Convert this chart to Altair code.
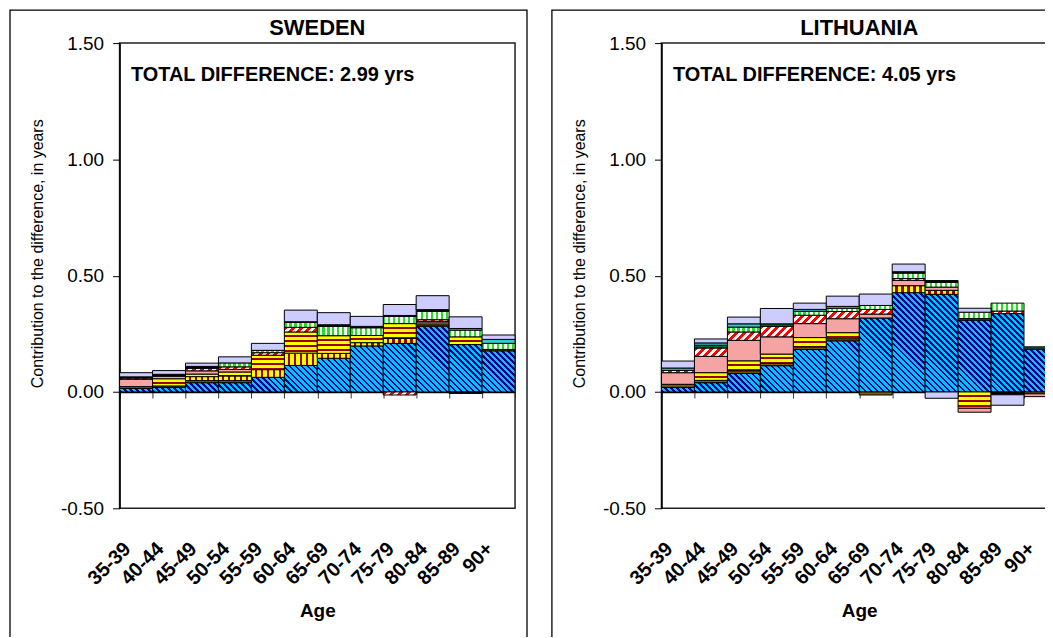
import math
import altair as alt

FONT = "Liberation Sans"

ages = ["35-39", "40-44", "45-49", "50-54", "55-59", "60-64",
        "65-69", "70-74", "75-79", "80-84", "85-89", "90+"]
countries = ["SWEDEN", "LITHUANIA"]
total_diff = [2.99, 4.05]

causes = ["circ", "brown", "diamond", "stripes", "reddots", "reddiag",
          "darkgreen", "greenvert", "teal", "black", "lavender"]

# ---- Sweden (contribution, years) ----
se_circ      = [0.015, 0.020, 0.040, 0.040, 0.063, 0.114, 0.145, 0.198, 0.209, 0.283, 0.204, 0.177]
se_brown     = [0.008, 0.006, 0.009, 0.009, 0.000, 0.000, 0.000, 0.000, 0.000, 0.006, 0.000, 0.006]
se_diamond   = [0.000, 0.000, 0.017, 0.020, 0.033, 0.053, 0.021, 0.014, 0.021, 0.000, 0.000, 0.000]
se_stripes   = [0.000, 0.031, 0.011, 0.017, 0.062, 0.091, 0.076, 0.031, 0.064, 0.008, 0.033, 0.000]
se_reddots   = [0.032, 0.011, 0.014, 0.011, 0.000, 0.000, 0.000, 0.000, 0.000, 0.007, 0.000, 0.000]
se_reddiag   = [0.005, 0.000, 0.011, 0.011, 0.011, 0.020, 0.000, 0.000, -0.013, 0.007, 0.000, 0.000]
se_darkgreen = [0.000, 0.000, 0.000, 0.000, 0.000, 0.000, 0.000, 0.000, 0.000, 0.000, 0.000, 0.000]
se_greenvert = [0.000, 0.000, 0.000, 0.017, 0.010, 0.021, 0.040, 0.033, 0.031, 0.036, 0.029, 0.026]
se_teal      = [0.000, 0.000, 0.000, 0.000, 0.000, 0.000, 0.000, 0.000, 0.000, 0.000, 0.007, 0.017]
se_black     = [0.005, 0.008, 0.008, 0.000, 0.000, 0.003, 0.007, 0.006, 0.004, 0.007, -0.006, 0.000]
se_lavender  = [0.018, 0.016, 0.014, 0.026, 0.030, 0.050, 0.052, 0.043, 0.047, 0.060, 0.050, 0.019]

# ---- Lithuania (contribution, years) ----
lt_circ      = [0.020, 0.040, 0.080, 0.113, 0.183, 0.220, 0.318, 0.427, 0.420, 0.309, 0.337, 0.184]
lt_brown     = [0.013, 0.010, 0.011, 0.010, 0.011, 0.009, -0.013, 0.000, 0.000, 0.000, 0.000, -0.008]
lt_diamond   = [0.000, 0.000, 0.000, 0.000, 0.000, 0.000, 0.000, 0.030, 0.017, 0.000, 0.000, 0.000]
lt_stripes   = [0.000, 0.033, 0.043, 0.040, 0.040, 0.026, 0.000, 0.000, 0.000, -0.070, 0.000, 0.000]
lt_reddots   = [0.050, 0.070, 0.088, 0.074, 0.060, 0.060, 0.017, 0.023, 0.014, -0.017, 0.000, -0.012]
lt_reddiag   = [0.010, 0.036, 0.036, 0.045, 0.036, 0.031, 0.020, 0.008, 0.000, 0.000, 0.011, 0.000]
lt_darkgreen = [0.000, 0.012, 0.000, 0.011, 0.000, 0.000, 0.000, 0.000, 0.000, 0.007, 0.000, 0.010]
lt_greenvert = [0.000, 0.000, 0.021, 0.000, 0.017, 0.014, 0.017, 0.023, 0.020, 0.027, 0.034, 0.000]
lt_teal      = [0.010, 0.010, 0.014, 0.000, 0.008, 0.008, 0.000, 0.000, 0.000, 0.000, 0.000, 0.000]
lt_black     = [0.000, 0.000, 0.000, 0.000, 0.000, 0.000, 0.000, 0.006, 0.008, 0.000, -0.012, 0.000]
lt_lavender  = [0.030, 0.017, 0.029, 0.066, 0.027, 0.044, 0.049, 0.033, -0.027, 0.017, -0.045, 0.000]

series = {
    "SWEDEN": [se_circ, se_brown, se_diamond, se_stripes, se_reddots, se_reddiag,
               se_darkgreen, se_greenvert, se_teal, se_black, se_lavender],
    "LITHUANIA": [lt_circ, lt_brown, lt_diamond, lt_stripes, lt_reddots, lt_reddiag,
                  lt_darkgreen, lt_greenvert, lt_teal, lt_black, lt_lavender],
}

# ---- layout ----
W, H = 397, 467
PX = H / 2.0          # pixels per year (domain -0.5..1.5)
BW = W / len(ages)    # bar width in pixels

# ---- fill styles (pattern imitations with hard-stop gradients) ----
styles = {
    "circ":      ("down", "#000080", "#00C0FF", 0.45, 6.0),
    "brown":     ("solid", "#7F6000"),
    "diamond":   ("vstripe", "#FFFF00", "#990000", 0.55, 6.0),
    "stripes":   ("hstripe", "#FFFF00", "#990000", 0.6, 5.0),
    "reddots":   ("solid", "#F5A3A3"),
    "reddiag":   ("up", "#FF0000", "#FFFFFF", 0.5, 8.0),
    "darkgreen": ("solid", "#006633"),
    "greenvert": ("vstripe", "#22DD22", "#FFFFFF", 0.45, 5.0),
    "teal":      ("solid", "#33CCCC"),
    "black":     ("solid", "#000000"),
    "lavender":  ("solid", "#CCCCFF"),
}


def stripe_stops(c1, c2, frac, period, span):
    stops = []
    n = int(math.ceil(span / period))
    for k in range(n):
        a = round(k * period / span, 4)
        b = round(min((k + frac) * period / span, 1.0), 4)
        c = round(min((k + 1) * period / span, 1.0), 4)
        stops.append({"offset": a, "color": c1})
        stops.append({"offset": b, "color": c1})
        if b < 1.0:
            stops.append({"offset": b, "color": c2})
            stops.append({"offset": c, "color": c2})
    return stops


def make_fill(cause, h):
    st = styles[cause]
    kind = st[0]
    if kind == "solid":
        return st[1]
    _, c1, c2, frac, period = st
    w = BW
    if kind == "hstripe":
        x1, y1, x2, y2, span = 0, 0, 0, 1, h
    elif kind == "vstripe":
        x1, y1, x2, y2, span = 0, 0, 1, 0, w
    else:
        k = (w + h) / (w * w + h * h)
        a, b = k * w, k * h
        span = w + h
        if kind == "down":
            x1, y1, x2, y2 = 0, 1, a, 1 - b
        else:
            x1, y1, x2, y2 = 0, 0, a, b
    return {"gradient": "linear", "x1": x1, "y1": y1, "x2": x2, "y2": y2,
            "stops": stripe_stops(c1, c2, frac, period, max(span, 0.5))}


def rows_for(country):
    out = []
    for ci, (cause, vals) in enumerate(zip(causes, series[country])):
        for ai, v in enumerate(vals):
            if v == 0:
                continue
            out.append({"age": ages[ai], "cause": cause, "order": ci, "value": v,
                        "fillstyle": make_fill(cause, abs(v) * PX)})
    return out


one = alt.Data(values=[{}])


def panel(i):
    country = countries[i]
    data = alt.Data(values=rows_for(country))

    xaxis = alt.Axis(orient="bottom", offset=-(H * 0.5 / 2.0), domainColor="#000",
                     domainWidth=1.5, tickBand="extent", tickSize=6, tickColor="#333",
                     tickWidth=1, labelAngle=315, labelAlign="right",
                     labelBaseline="middle", labelPadding=148, labelOffset=-9,
                     labelOverlap=False,
                     labelFont=FONT, labelFontWeight="bold", labelFontSize=20,
                     labelColor="#000", title="Age", titleFont=FONT,
                     titleFontSize=19, titleFontWeight="bold", titleColor="#000",
                     titleY=225, titleBaseline="alphabetic", grid=False)
    yaxis = alt.Axis(values=[-0.5, 0, 0.5, 1.0, 1.5],
                     labelExpr="datum.value < 0 ? '-' + format(-datum.value, '.2f') : format(datum.value, '.2f')",
                     tickSize=7,
                     tickColor="#000", domainColor="#000", domainWidth=1.5,
                     labelPadding=9, labelFont=FONT, labelFontSize=19,
                     labelColor="#000", title="Contribution to the difference, in years",
                     titleFont=FONT, titleFontSize=16, titleFontWeight="normal",
                     titleColor="#000", titleX=-82.5, titleY=211, titleAngle=270,
                     titleBaseline="middle", grid=False)

    bars = alt.Chart(data).transform_stack(
        stack="value", groupby=["age"], as_=["v0", "v1"],
        sort=[alt.SortField("order", order="ascending")], offset="zero"
    ).mark_bar(stroke="#000", strokeWidth=1).encode(
        x=alt.X("age:N", sort=ages,
                scale=alt.Scale(domain=ages, paddingInner=0, paddingOuter=0),
                axis=xaxis),
        y=alt.Y("v0:Q", scale=alt.Scale(domain=[-0.5, 1.5], nice=False, zero=False),
                axis=yaxis),
        y2="v1:Q",
        fill=alt.Fill("fillstyle:N", scale=None, legend=None),
    )

    frame = alt.Chart(one).mark_rect(filled=False, stroke="#000", strokeWidth=1.3).encode(
        x=alt.value(-110), x2=alt.value(409), y=alt.value(-33), y2=alt.value(606))

    title = alt.Chart(one).mark_text(
        text=country, font=FONT, fontSize=22, fontWeight="bold", align="center",
        baseline="alphabetic", color="#000").encode(x=alt.value(W / 2), y=alt.value(-8.5))

    total = alt.Chart(one).mark_text(
        text=f"TOTAL DIFFERENCE: {total_diff[i]:.2f} yrs", font=FONT, fontSize=20,
        fontWeight="bold", align="left", baseline="alphabetic",
        color="#000").encode(x=alt.value(11.5), y=alt.value(38))

    return alt.layer(frame, bars, title, total).properties(width=W, height=H)


chart = alt.hconcat(panel(0), panel(1), spacing=21).properties(
    padding={"left": 0, "top": -1, "right": -26, "bottom": -13}
).configure(font=FONT).configure_view(stroke="#222", strokeWidth=1.5)

chart.save("out.html", embed_options={"renderer": "svg", "actions": False})
